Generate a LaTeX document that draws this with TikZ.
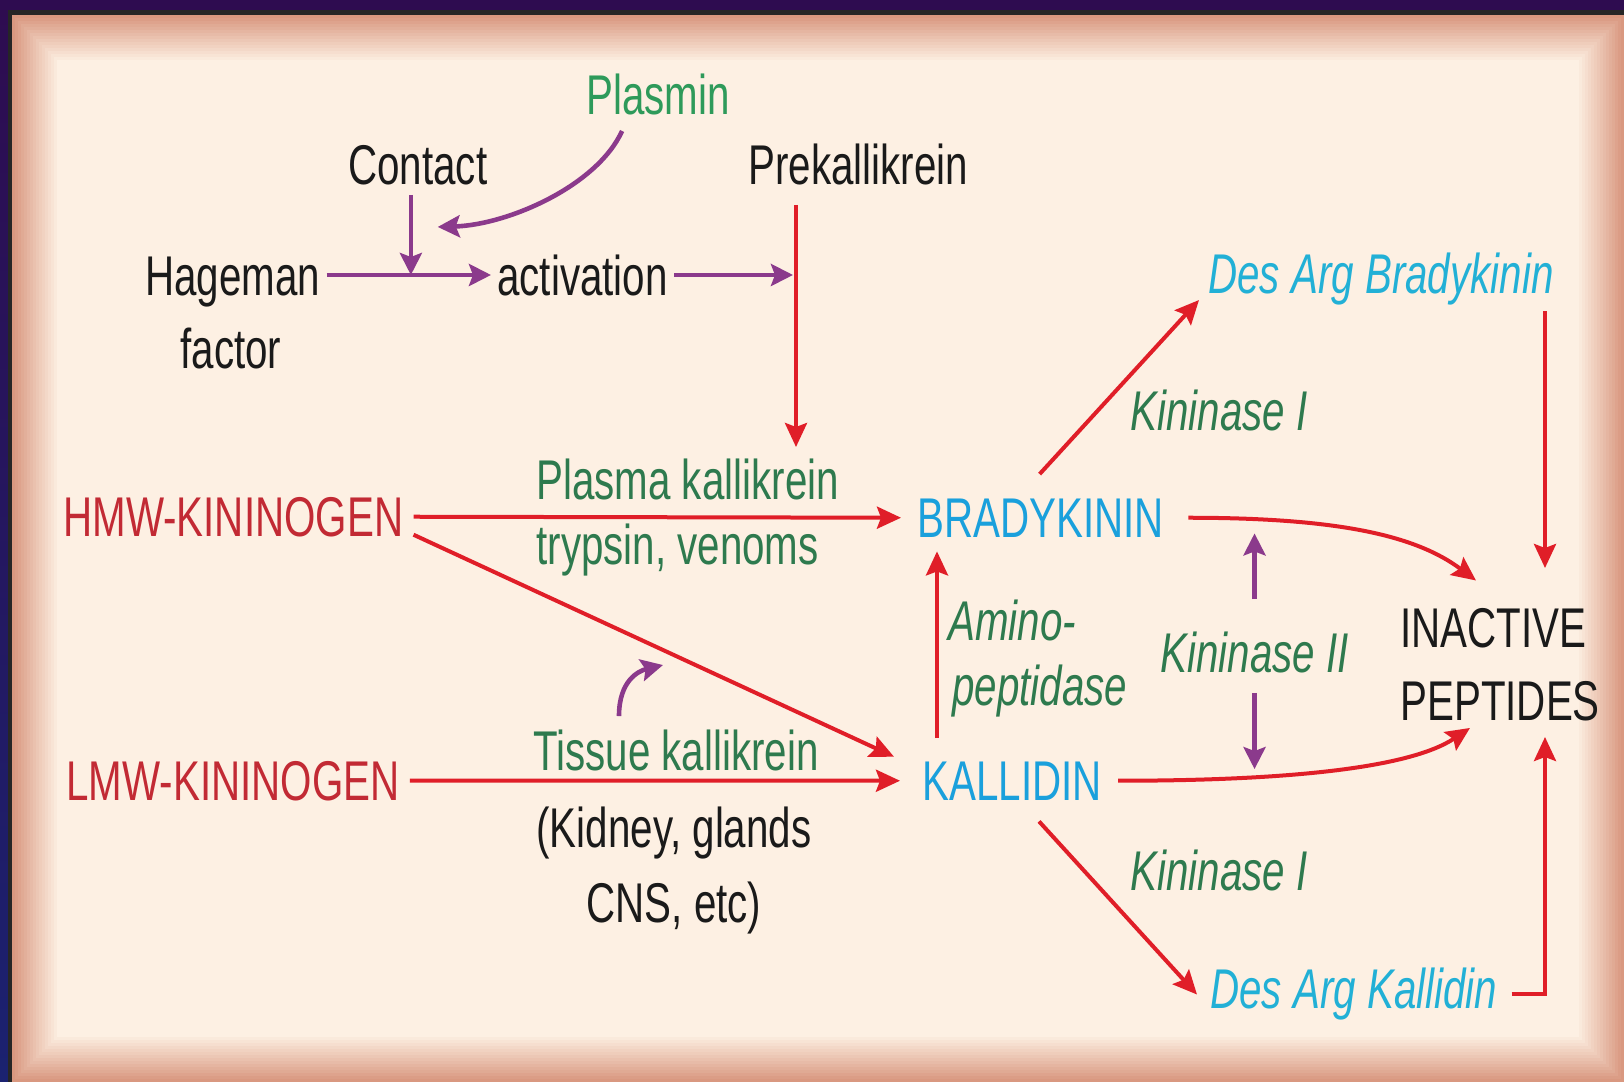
\documentclass[tikz,border=0pt]{standalone}
\usepackage{fontspec}
\setmainfont{Liberation Sans}[FakeStretch=0.72]
\usetikzlibrary{positioning,arrows.meta,calc}
\definecolor{figred}{HTML}{E01E28}
\definecolor{figdred}{HTML}{C22A34}
\definecolor{figgreen}{HTML}{2E7A4E}
\definecolor{figlgreen}{HTML}{2E9A5A}
\definecolor{figblue}{HTML}{1AA0DC}
\definecolor{figcyan}{HTML}{22B0D6}
\definecolor{figpurple}{HTML}{8B3A8C}
\definecolor{figblack}{HTML}{1A1A1A}
\definecolor{bgtop}{HTML}{2E0C50}
\definecolor{bgbot}{HTML}{1B2270}
\definecolor{panelsalmon}{HTML}{D99880}
\definecolor{panelcream}{HTML}{FDF0E3}
\newcommand{\figsize}{\fontsize{28}{34}\selectfont}
\tikzset{
  fig/.style={font=\figsize},
  lbl/.style={inner sep=3pt,anchor=base west,font=\figsize},
  blk/.style={lbl,text=figblack},
  grn/.style={lbl,text=figgreen},
  enz/.style={lbl,text=figgreen,font=\figsize\itshape},
  kin/.style={lbl,text=figdred},
  pep/.style={lbl,text=figblue},
  des/.style={lbl,text=figcyan,font=\figsize\itshape},
  rarr/.style={-{Stealth[length=12pt,width=11pt,inset=2pt]},line width=2pt,draw=figred},
  parr/.style={-{Stealth[length=11pt,width=11pt,inset=2pt]},line width=2.3pt,draw=figpurple},
}

\begin{document}
\begin{tikzpicture}[fig,x=0.5pt,y=-0.5pt]

% Frame and panel
\useasboundingbox (0,0) rectangle (1624,1082);
\shade[top color=bgtop,bottom color=bgbot] (0,0) rectangle (1624,1082);
\fill[black!85] (8,10) rectangle (1624,1082);
\foreach \i in {0,...,15}{
  \pgfmathtruncatemacro\p{\i*100/15}
  \fill[panelcream!\p!panelsalmon] (12+3*\i,15+3*\i) rectangle (1624-3*\i,1082-3*\i);
}

% Row 0: Plasmin, Contact, Prekallikrein
\node[lbl,text=figlgreen] (plas) at (580,114) {Plasmin};
\node[blk] (cont) at (342,184) {Contact};
\node[blk] (pk) at (742,184) {Prekallikrein};

% Row 1: Hageman factor activation
\node[blk] (hag) at (139,295) {Hageman};
\node[blk,anchor=base] (fac) at (231,368) {factor};
\node[blk] (act) at (491,295) {activation};
\draw[parr] (hag.east |- act.west) -- (act.west);
\draw[parr] ($(cont.south)+(-7,4)$) -- ($(cont.south |- act.west)+(-7,0)$);
\draw[parr] ($(plas.south)+(-36,10)$) .. controls +(-25,55) and +(70,-2) .. ($(cont.south east)+(-56,36)$);

% Prekallikrein down to plasma kallikrein
\coordinate (pkend) at (796,447);
\draw[rarr] ($(pk.south west)+(54,14)$) -- (pkend);
\draw[parr,shorten >=1.5pt] (act.east) -- (act.east -| pkend);

% Row 2: HMW-kininogen to bradykinin
\node[kin] (hmw) at (57,536) {HMW-KININOGEN};
\node[grn] (pkal) at (530,499) {Plasma kallikrein};
\node[grn] (tryp) at (530,564) {trypsin, venoms};
\node[pep] (brady) at (911,537) {BRADYKININ};
\draw[rarr,shorten <=2pt,shorten >=5pt] (hmw.east) -- (brady.west);

% Row 3: LMW-kininogen to kallidin
\node[kin] (lmw) at (60,800) {LMW-KININOGEN};
\node[grn] (tk) at (527,770) {Tissue kallikrein};
\node[blk,anchor=base] (kid) at (674,847) {(Kidney, glands};
\node[blk,anchor=base] (cns) at (674,922) {CNS, etc)};
\node[pep] (kall) at (916,800) {KALLIDIN};
\draw[rarr,shorten <=2pt,shorten >=8pt] (lmw.east) -- (kall.west);
\draw[rarr] ($(hmw.east)+(4,18)$) -- ($(kall.west)+(-22,-24)$);
\draw[parr] ($(tk.north west)+(92,-7)$) .. controls +(0,-35) and +(-25,6) .. ($(tk.north west)+(136,-58)$);

% Aminopeptidase
\node[enz] (amA) at (942,640) {Amino-};
\node[enz] (amB) at (946,705) {peptidase};
\draw[rarr] ($(kall.north west)+(21,-17)$) -- ($(kall.north west |- brady.south)+(21,8)$);

% Kininases and des-Arg products
\node[enz] (k1a) at (1124,430) {Kininase I};
\node[enz] (k2) at (1154,672) {Kininase II};
\node[enz] (k1b) at (1124,890) {Kininase I};
\node[des] (dab) at (1202,293) {Des Arg Bradykinin};
\node[des] (dak) at (1204,1008) {Des Arg Kallidin};
\draw[rarr] ($(brady.north)+(-1,-18)$) -- ($(dab.south west)+(-3,-11)$);
\draw[rarr] ($(kall.south)+(27,15)$) -- ($(dak.west)+(-7,1)$);
\draw[parr] ([yshift=13pt]k2.north) -- ([yshift=5pt]k2.north |- brady.south);
\draw[parr] ([yshift=-7pt]k2.south) -- ([yshift=-7pt]k2.south |- kall.north);

% Inactive peptides
\node[blk] (inact) at (1394,647) {INACTIVE};
\node[blk] (pept) at (1394,720) {PEPTIDES};
\coordinate (inTop) at (1545,568);
\coordinate (inBot) at (1545,737);
\draw[rarr] (dab.south east -| inTop) -- (inTop);
\draw[rarr,shorten <=4pt] (dak.east) -| (inBot);
\draw[rarr] ([xshift=9pt]brady.east) .. controls +(150,0) and +(-60,-45) .. ($(inact.north west)+(82,-21)$);
\draw[rarr] ([xshift=5pt]kall.east) .. controls +(170,0) and +(-60,40) .. ($(pept.south west)+(76,1)$);

\end{tikzpicture}
\end{document}
